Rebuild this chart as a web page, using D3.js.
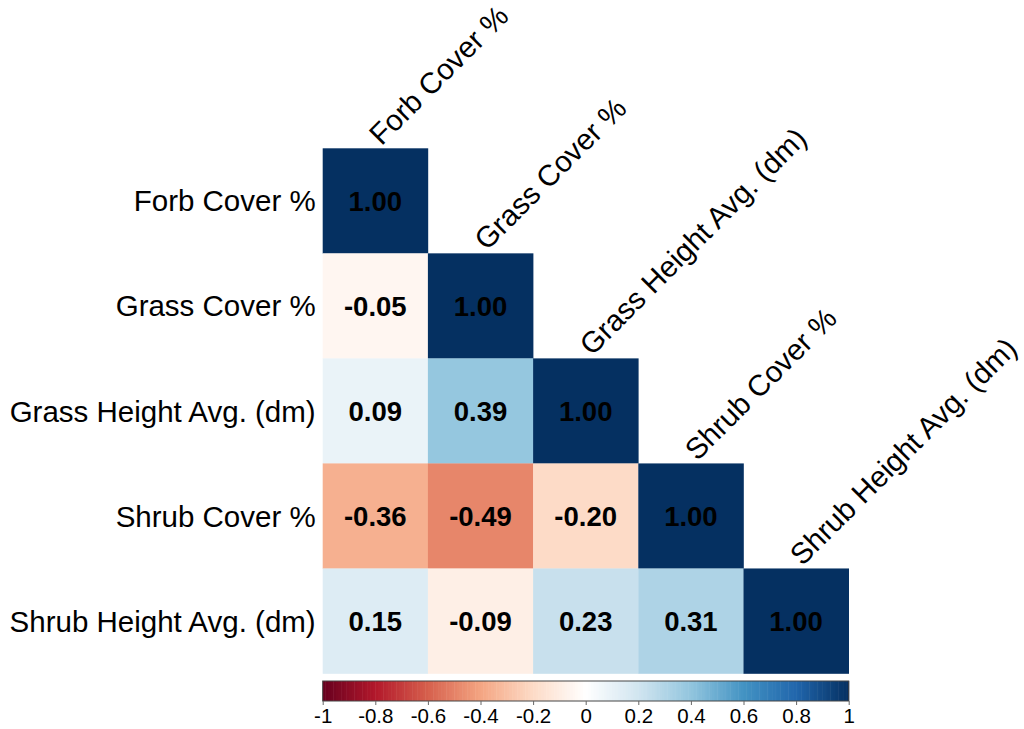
<!DOCTYPE html>
<html>
<head>
<meta charset="utf-8">
<script src="https://cdn.jsdelivr.net/npm/d3@7"></script>
<style>
  html, body { margin: 0; padding: 0; background: #fff; }
  svg { display: block; font-family: "Liberation Sans", Arial, sans-serif; }
</style>
</head>
<body>
<svg id="chart" width="1024" height="729"></svg>
<script>
// Variables in the correlation matrix
const variables = [
  "Forb Cover %",
  "Grass Cover %",
  "Grass Height Avg. (dm)",
  "Shrub Cover %",
  "Shrub Height Avg. (dm)"
];

// Lower-triangle correlations, row by row (row i has i+1 entries)
const row1 = [1.00];
const row2 = [-0.05, 1.00];
const row3 = [0.09, 0.39, 1.00];
const row4 = [-0.36, -0.49, -0.20, 1.00];
const row5 = [0.15, -0.09, 0.23, 0.31, 1.00];
const correlations = [row1, row2, row3, row4, row5];

// Colour bar tick labels
const legendTicks = [-1, -0.8, -0.6, -0.4, -0.2, 0, 0.2, 0.4, 0.6, 0.8, 1];

// Diverging red-blue palette
const paletteStops = [-1, -0.8, -0.6, -0.4, -0.2, 0, 0.2, 0.4, 0.6, 0.8, 1];
const paletteColors = ["#67001F", "#B2182B", "#D6604D", "#F4A582", "#FDDBC7",
                       "#FFFFFF", "#D1E5F0", "#92C5DE", "#4393C3", "#2166AC", "#053061"];

const svg = d3.select("#chart");

const gridLeft = 322.7, gridRight = 848.7, gridTop = 148.3, gridBottom = 673.5;

const x = d3.scaleBand().domain(variables).range([gridLeft, gridRight]).padding(0);
const y = d3.scaleBand().domain(variables).range([gridTop, gridBottom]).padding(0);
const color = d3.scaleLinear().domain(paletteStops).range(paletteColors)
  .interpolate(d3.interpolateRgb).clamp(true);

// Flatten the triangle into cells
const cells = [];
correlations.forEach((row, i) => {
  row.forEach((v, j) => cells.push({ r: variables[i], c: variables[j], v }));
});

// Cells
svg.append("g").selectAll("rect")
  .data(cells)
  .join("rect")
  .attr("x", d => x(d.c))
  .attr("y", d => y(d.r))
  .attr("width", x.bandwidth() + 0.3)
  .attr("height", y.bandwidth() + 0.3)
  .attr("fill", d => color(d.v));

// Cell values
svg.append("g").selectAll("text")
  .data(cells)
  .join("text")
  .attr("x", d => x(d.c) + x.bandwidth() / 2)
  .attr("y", d => y(d.r) + y.bandwidth() / 2)
  .attr("dy", "0.36em")
  .attr("text-anchor", "middle")
  .attr("font-size", 27.5)
  .attr("font-weight", "bold")
  .attr("fill", "#000")
  .text(d => d.v.toFixed(2));

// Row labels
svg.append("g").selectAll("text")
  .data(variables)
  .join("text")
  .attr("x", gridLeft - 7)
  .attr("y", d => y(d) + y.bandwidth() / 2)
  .attr("dy", "0.36em")
  .attr("text-anchor", "end")
  .attr("font-size", 29.5)
  .attr("fill", "#000")
  .text(d => d);

// Column labels, rotated above each diagonal cell
svg.append("g").selectAll("text")
  .data(variables)
  .join("text")
  .attr("transform", d => `translate(${x(d) + x.bandwidth() / 2},${y(d) - 8}) rotate(-45)`)
  .attr("x", 0)
  .attr("y", 0)
  .attr("dy", "0.3em")
  .attr("text-anchor", "start")
  .attr("font-size", 29.5)
  .attr("fill", "#000")
  .text(d => d);

// Colour bar
const barTop = 681, barBottom = 701;
const legendX = d3.scaleLinear().domain([-1, 1]).range([gridLeft, gridRight]);
const nBins = 200;
const bins = d3.range(nBins).map(k => -1 + (2 * k) / nBins);
const legend = svg.append("g");
legend.selectAll("rect.bin")
  .data(bins)
  .join("rect")
  .attr("class", "bin")
  .attr("x", d => legendX(d))
  .attr("y", barTop)
  .attr("width", legendX(-1 + 2 / nBins) - legendX(-1) + 0.5)
  .attr("height", barBottom - barTop)
  .attr("fill", d => color(d + 1 / nBins));

legend.append("rect")
  .attr("x", gridLeft)
  .attr("y", barTop)
  .attr("width", gridRight - gridLeft)
  .attr("height", barBottom - barTop)
  .attr("fill", "none")
  .attr("stroke", "#444")
  .attr("stroke-width", 1);

const axis = d3.axisBottom(legendX)
  .tickValues(legendTicks)
  .tickSize(4);
const axisG = legend.append("g")
  .attr("transform", `translate(0,${barBottom})`)
  .call(axis);
axisG.select(".domain").remove();
axisG.selectAll(".tick line").attr("stroke", "#666");
axisG.selectAll(".tick text")
  .attr("font-size", 20.5)
  .attr("font-family", "Liberation Sans, Arial, sans-serif")
  .attr("fill", "#000")
  .attr("dy", "0.75em")
  .text(d => d === 0 ? "0" : (d < 0 ? "-" : "") + d3.format("")(Math.abs(+d.toFixed(1))));
</script>
</body>
</html>
